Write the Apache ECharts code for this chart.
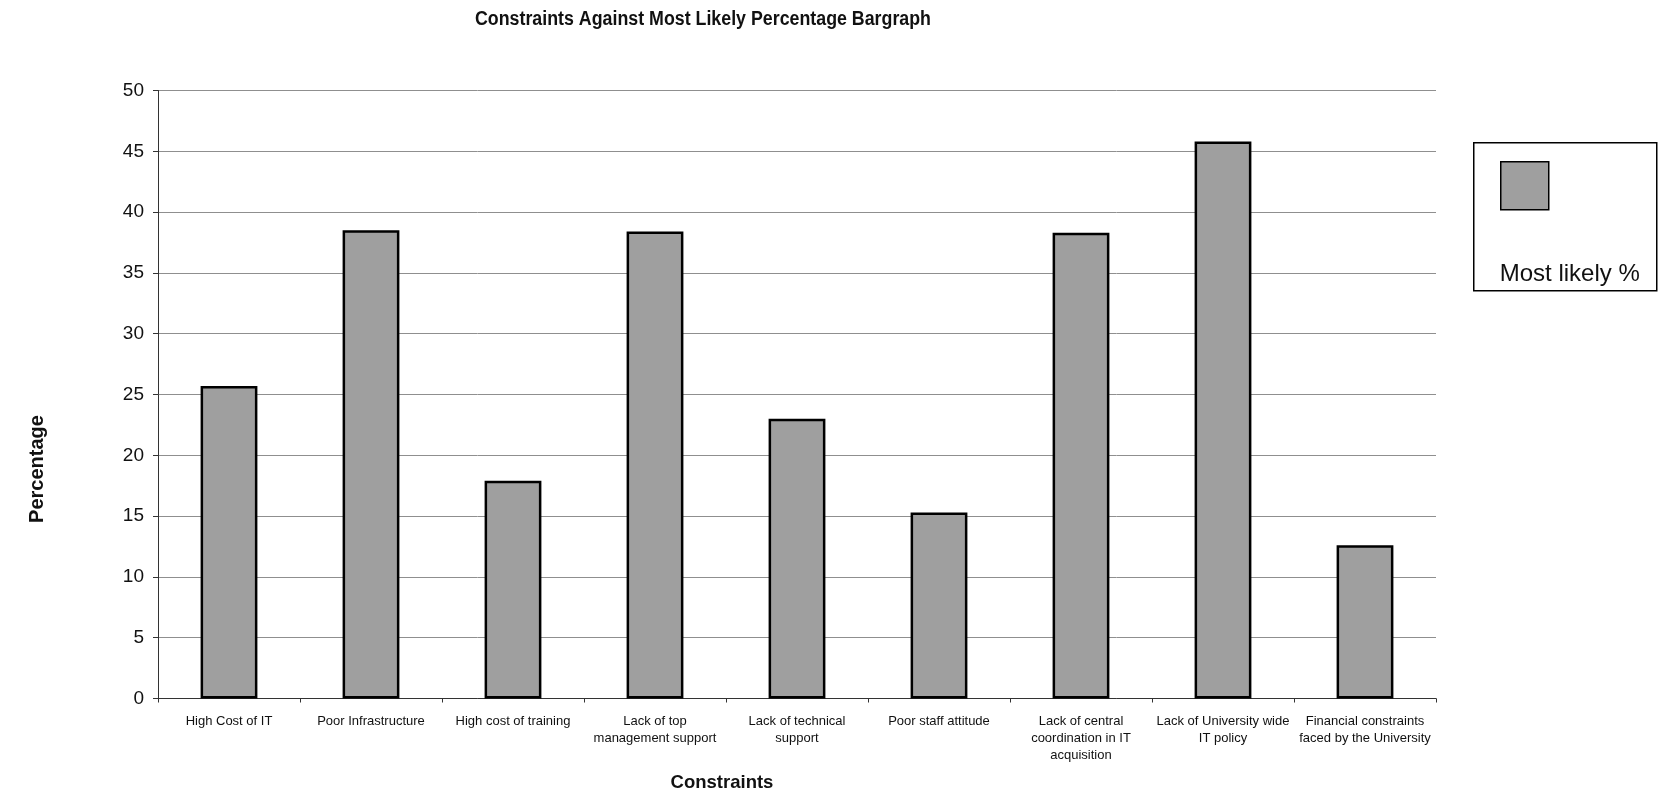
<!DOCTYPE html>
<html>
<head>
<meta charset="utf-8">
<script src="https://cdn.jsdelivr.net/npm/echarts@6/dist/echarts.min.js"></script>
<style>
  html, body { margin: 0; padding: 0; background: #fff; }
  #chart { width: 1670px; height: 798px; }
</style>
</head>
<body>
<div id="chart"></div>
<script>
// Constraints and the share of respondents rating each as "most likely"
const categories = [
  'High Cost of IT',
  'Poor Infrastructure',
  'High cost of training',
  'Lack of top\nmanagement support',
  'Lack of technical\nsupport',
  'Poor staff attitude',
  'Lack of central\ncoordination in IT\nacquisition',
  'Lack of University wide\nIT policy',
  'Financial constraints\nfaced by the University'
];
const mostLikely = [25.7, 38.5, 17.9, 38.4, 23.0, 15.3, 38.3, 45.8, 12.6];
const seriesName = 'Most likely %';
const yTicks = { min: 0, max: 50, interval: 5 };

const font = "'Liberation Sans', Arial, sans-serif";
const barFill = '#9f9f9f';

const chart = echarts.init(document.getElementById('chart'), null, { renderer: 'canvas' });

chart.setOption({
  backgroundColor: '#ffffff',
  animation: false,
  grid: { left: 158, right: 234, top: 90.5, bottom: 99.5, containLabel: false },
  xAxis: {
    type: 'category',
    data: categories,
    axisLine: { lineStyle: { color: '#333', width: 1 } },
    axisTick: { show: true, length: 4, lineStyle: { color: '#333' } },
    axisLabel: {
      interval: 0,
      margin: 14,
      fontFamily: font,
      fontSize: 13,
      lineHeight: 17,
      color: '#111'
    }
  },
  yAxis: {
    type: 'value',
    min: yTicks.min,
    max: yTicks.max,
    interval: yTicks.interval,
    axisLine: { show: true, lineStyle: { color: '#333', width: 1 } },
    axisTick: { show: true, length: 5, lineStyle: { color: '#333' } },
    axisLabel: { margin: 14, fontFamily: font, fontSize: 19, color: '#111' },
    splitLine: { show: true, lineStyle: { color: '#8f8f8f', width: 1 } }
  },
  series: [{
    name: seriesName,
    type: 'bar',
    data: mostLikely,
    barCategoryGap: '60%',
    itemStyle: { color: barFill, borderColor: '#000', borderWidth: 2.5 }
  }],
  graphic: [
    {
      // chart title, set in a condensed bold face
      type: 'text',
      x: 703,
      y: 19,
      scaleX: 0.89,
      style: {
        text: 'Constraints Against Most Likely Percentage Bargraph',
        fontFamily: font,
        fontWeight: 'bold',
        fontSize: 20,
        fill: '#111',
        align: 'center',
        verticalAlign: 'middle'
      }
    },
    {
      // horizontal axis title
      type: 'text',
      x: 722,
      y: 783,
      style: {
        text: 'Constraints',
        fontFamily: font,
        fontWeight: 'bold',
        fontSize: 18.5,
        fill: '#111',
        align: 'center',
        verticalAlign: 'middle'
      }
    },
    {
      // vertical axis title
      type: 'text',
      x: 37,
      y: 469,
      rotation: Math.PI / 2,
      style: {
        text: 'Percentage',
        fontFamily: font,
        fontWeight: 'bold',
        fontSize: 20,
        fill: '#111',
        align: 'center',
        verticalAlign: 'middle'
      }
    },
    {
      // legend box with swatch above its label
      type: 'group',
      left: 1473,
      top: 142,
      children: [
        {
          type: 'rect',
          shape: { x: 0, y: 0, width: 183, height: 148 },
          style: { fill: '#fff', stroke: '#000', lineWidth: 1.5 }
        },
        {
          type: 'rect',
          shape: { x: 27, y: 19, width: 48, height: 48 },
          style: { fill: barFill, stroke: '#000', lineWidth: 1.5 }
        },
        {
          type: 'text',
          x: 26,
          y: 132,
          style: {
            text: seriesName,
            fontFamily: font,
            fontSize: 24,
            fill: '#111',
            align: 'left',
            verticalAlign: 'middle'
          }
        }
      ]
    }
  ]
});
</script>
</body>
</html>
